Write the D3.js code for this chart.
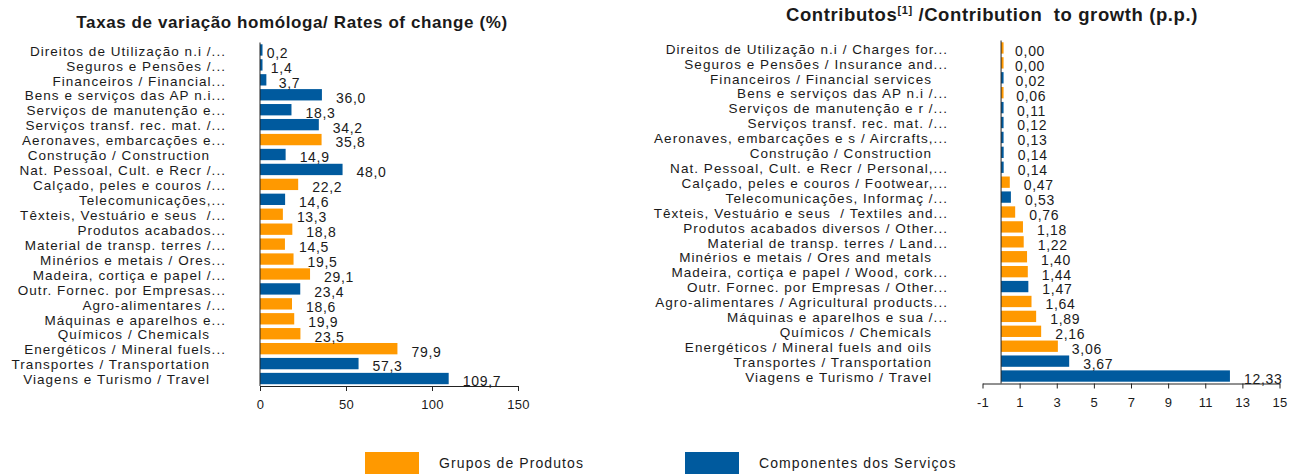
<!DOCTYPE html>
<html>
<head>
<meta charset="utf-8">
<script src="https://cdn.jsdelivr.net/npm/d3@7"></script>
<style>
  body { margin: 0; background: #fff; }
  text { font-family: 'Liberation Sans', Arial, sans-serif; fill: #1a1a1a; }
</style>
</head>
<body>
<svg id="chart" width="1300" height="474"></svg>
<script>
// Left panel: rates of change (%)
const rateLabels = [
  'Direitos de Utilização n.i /...',
  'Seguros e Pensões /...',
  'Financeiros / Financial...',
  'Bens e serviços das AP n.i...',
  'Serviços de manutenção e...',
  'Serviços transf. rec. mat. /...',
  'Aeronaves, embarcações e...',
  'Construção / Construction',
  'Nat. Pessoal, Cult. e Recr /...',
  'Calçado, peles e couros /...',
  'Telecomunicações,...',
  'Têxteis, Vestuário e seus  /...',
  'Produtos acabados...',
  'Material de transp. terres /...',
  'Minérios e metais / Ores...',
  'Madeira, cortiça e papel /...',
  'Outr. Fornec. por Empresas...',
  'Agro-alimentares /...',
  'Máquinas e aparelhos e...',
  'Químicos / Chemicals',
  'Energéticos / Mineral fuels...',
  'Transportes / Transportation',
  'Viagens e Turismo / Travel'
]
const rateValues = [0.2, 1.4, 3.7, 36.0, 18.3, 34.2, 35.8, 14.9, 48.0, 22.2, 14.6, 13.3,
  18.8, 14.5, 19.5, 29.1, 23.4, 18.6, 19.9, 23.5, 79.9, 57.3, 109.7]
const rateGroups = ['S', 'S', 'S', 'S', 'S', 'S', 'P', 'S', 'S', 'P', 'S', 'P',
  'P', 'P', 'P', 'P', 'S', 'P', 'P', 'P', 'P', 'S', 'S']
const rateTicks = [0, 50, 100, 150]

// Right panel: contribution to growth (p.p.)
const contribLabels = [
  'Direitos de Utilização n.i / Charges for...',
  'Seguros e Pensões / Insurance and...',
  'Financeiros / Financial services',
  'Bens e serviços das AP n.i /...',
  'Serviços de manutenção e r /...',
  'Serviços transf. rec. mat. /...',
  'Aeronaves, embarcações e s / Aircrafts,...',
  'Construção / Construction',
  'Nat. Pessoal, Cult. e Recr / Personal,...',
  'Calçado, peles e couros / Footwear,...',
  'Telecomunicações, Informaç /...',
  'Têxteis, Vestuário e seus  / Textiles and...',
  'Produtos acabados diversos / Other...',
  'Material de transp. terres / Land...',
  'Minérios e metais / Ores and metals',
  'Madeira, cortiça e papel / Wood, cork...',
  'Outr. Fornec. por Empresas / Other...',
  'Agro-alimentares / Agricultural products...',
  'Máquinas e aparelhos e sua /...',
  'Químicos / Chemicals',
  'Energéticos / Mineral fuels and oils',
  'Transportes / Transportation',
  'Viagens e Turismo / Travel'
]
const contribValues = [0.00, 0.00, 0.02, 0.06, 0.11, 0.12, 0.13, 0.14, 0.14, 0.47, 0.53, 0.76,
  1.18, 1.22, 1.40, 1.44, 1.47, 1.64, 1.89, 2.16, 3.06, 3.67, 12.33]
const contribGroups = ['P', 'P', 'S', 'P', 'S', 'S', 'S', 'S', 'S', 'P', 'S', 'P',
  'P', 'P', 'P', 'P', 'S', 'P', 'P', 'P', 'P', 'S', 'S']
const contribTicks = [-1, 1, 3, 5, 7, 9, 11, 13, 15]

const legendKeys = ['P', 'S']
const legendLabels = ['Grupos de Produtos', 'Componentes dos Serviços']

const colorScale = d3.scaleOrdinal().domain(['P', 'S']).range(['#ff9900', '#005a9e'])

const svg = d3.select('#chart')

function drawPanel(cfg) {
  const data = cfg.labels.map((label, i) => ({
    label: label,
    value: cfg.values[i],
    group: cfg.groups[i],
    i: i
  }))

  const xPositionScale = d3.scaleLinear().domain(cfg.domain).range(cfg.xRange)
  const yPositionScale = d3
    .scaleBand()
    .domain(data.map(d => d.i))
    .range(cfg.yRange)
    .paddingInner(0.24)
    .paddingOuter(0.12)

  const g = svg.append('g')
  const x0 = xPositionScale(0)
  const mid = d => yPositionScale(d.i) + yPositionScale.bandwidth() / 2

  // bars
  g.selectAll('.bar')
    .data(data)
    .enter()
    .append('rect')
    .attr('class', 'bar')
    .attr('x', x0)
    .attr('y', d => yPositionScale(d.i))
    .attr('width', d => Math.max(2.5, xPositionScale(d.value) - x0))
    .attr('height', yPositionScale.bandwidth())
    .attr('fill', d => colorScale(d.group))

  // value labels
  g.selectAll('.value')
    .data(data)
    .enter()
    .append('text')
    .attr('class', 'value')
    .attr('x', d => {
      const len = xPositionScale(d.value) - x0
      return x0 + len + cfg.gap(len)
    })
    .attr('y', d => mid(d) + 3)
    .attr('dy', '0.35em')
    .attr('font-size', 14)
    .attr('letter-spacing', 0.7)
    .text(d => cfg.format(d.value).replace('.', ','))

  // category labels
  g.selectAll('.cat')
    .data(data)
    .enter()
    .append('text')
    .attr('class', 'cat')
    .attr('x', d => d.label.endsWith('...') ? cfg.labelX : cfg.labelX - 16)
    .attr('y', d => mid(d) + 1)
    .attr('dy', '0.35em')
    .attr('text-anchor', 'end')
    .attr('font-size', 13.5)
    .attr('letter-spacing', 1.05)
    .attr('xml:space', 'preserve')
    .text(d => d.label)

  // vertical zero line
  g.append('line')
    .attr('x1', x0)
    .attr('x2', x0)
    .attr('y1', cfg.yRange[0])
    .attr('y2', cfg.yRange[1])
    .attr('stroke', '#222')

  const xAxis = d3
    .axisBottom(xPositionScale)
    .tickValues(cfg.ticks)
    .tickSize(5)
    .tickSizeOuter(0)
    .tickPadding(9)
    .tickFormat(d => String(d))

  const axisG = g
    .append('g')
    .attr('class', 'axis x-axis')
    .attr('transform', 'translate(0,' + cfg.yRange[1] + ')')
    .call(xAxis)

  axisG.select('.domain').attr('stroke', '#222')
  axisG.selectAll('.tick line').attr('stroke', '#222')
  axisG.selectAll('.tick text')
    .attr('font-size', 13)
    .attr('letter-spacing', 0.3)
    .attr('font-family', "'Liberation Sans', Arial, sans-serif")
    .attr('fill', '#1a1a1a')
}

drawPanel({
  labels: rateLabels,
  values: rateValues,
  groups: rateGroups,
  ticks: rateTicks,
  domain: [0, 150],
  xRange: [260, 518],
  yRange: [42.5, 386],
  labelX: 226,
  gap: len => Math.min(14, 6 + len),
  format: d3.format('.1f')
})

drawPanel({
  labels: contribLabels,
  values: contribValues,
  groups: contribGroups,
  ticks: contribTicks,
  domain: [-1, 15],
  xRange: [982.5, 1279.5],
  yRange: [40.5, 383.5],
  labelX: 948,
  gap: len => 14,
  format: d3.format('.2f')
})

// titles
svg.append('text')
  .attr('x', 292)
  .attr('y', 27.5)
  .attr('text-anchor', 'middle')
  .attr('font-size', 17)
  .attr('font-weight', 'bold')
  .attr('letter-spacing', 0.6)
  .text('Taxas de variação homóloga/ Rates of change (%)')

const title2 = svg.append('text')
  .attr('x', 992)
  .attr('y', 21)
  .attr('text-anchor', 'middle')
  .attr('font-size', 18.5)
  .attr('font-weight', 'bold')
  .attr('letter-spacing', 0.6)
  .attr('xml:space', 'preserve')
title2.append('tspan').text('Contributos')
title2.append('tspan').attr('font-size', 11).attr('dy', -7).text('[1]')
title2.append('tspan').attr('dy', 7).text(' /Contribution  to growth (p.p.)')

// legend
const legend = svg.selectAll('.legend')
  .data(legendKeys)
  .enter()
  .append('g')
  .attr('class', 'legend')
  .attr('transform', (d, i) => `translate(${365 + i * 320}, 452)`)

legend.append('rect')
  .attr('width', 54)
  .attr('height', 22)
  .attr('fill', d => colorScale(d))

legend.append('text')
  .attr('x', 74)
  .attr('y', 11)
  .attr('dy', '0.35em')
  .attr('font-size', 14)
  .attr('letter-spacing', 1.1)
  .text((d, i) => legendLabels[i])
</script>
</body>
</html>
